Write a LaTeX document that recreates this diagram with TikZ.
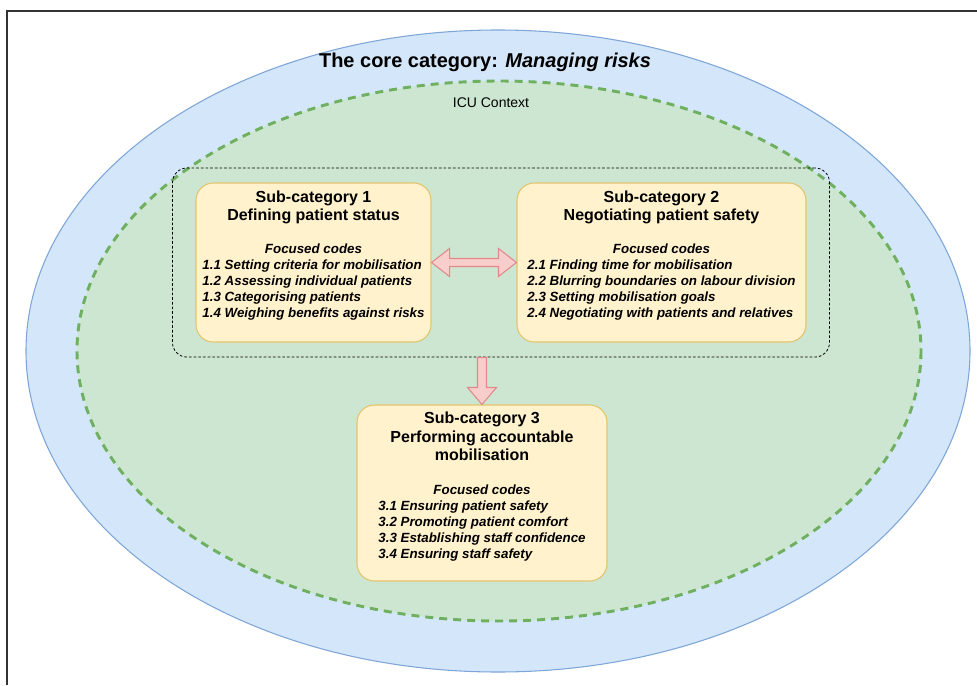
\documentclass[tikz,border=0pt]{standalone}
\usepackage{fontspec}
\setmainfont{Liberation Sans}
\usetikzlibrary{calc, fit}

\definecolor{coreblue}{HTML}{D4E6F9}
\definecolor{coreline}{HTML}{7EA6D8}
\definecolor{icugreen}{HTML}{CDE6D1}
\definecolor{iculine}{HTML}{6FB060}
\definecolor{subfill}{HTML}{FFF2CC}
\definecolor{subline}{HTML}{E3C46E}
\definecolor{arrfill}{HTML}{F8CECC}
\definecolor{arrline}{HTML}{E08A8A}

\newcommand{\subhead}[1]{{\fontsize{12}{12}\selectfont\bfseries\upshape #1}}
\newcommand{\lastcode}{\rule[-12pt]{0pt}{12pt}}

\begin{document}
\begin{tikzpicture}[x=0.75pt, y=-0.75pt,
  subbox/.style={draw=subline, fill=subfill, line width=0.8pt, rounded corners=13pt,
    align=center, inner sep=0pt, font=\fontsize{10}{12}\selectfont\bfseries\itshape},
  blockarrow/.style={draw=arrline, fill=arrfill, line width=0.8pt, line join=miter}]
  \useasboundingbox (0,0) rectangle (977,685);

  % Frame of the figure
  \draw[black!80, line width=1pt] (977,11) -- (7,11) -- (7,685);

  % Draw the core category and the ICU context
  \draw[draw=coreline, fill=coreblue, line width=0.8pt] (498,351) ellipse [x radius=472, y radius=321];
  \draw[draw=iculine, fill=icugreen, line width=2.2pt, dash pattern=on 6pt off 4.5pt]
    (499,351) ellipse [x radius=422, y radius=270];
  \node[font=\fontsize{15}{18}\selectfont\bfseries] (core) at (485,62) {The core category: \textit{Managing risks}};
  \node[font=\fontsize{10.5}{12}\selectfont] (icu) at (491,103) {ICU Context};

  % Sub-categories 1 and 2
  \node[subbox, minimum width=176.25pt, minimum height=119.25pt] (b1) at (313.5,262.5) {%
    \subhead{Sub-category 1}\\[1.5pt]
    \subhead{Defining patient status}\\[13pt]
    Focused codes\\
    \begin{tabular}[t]{@{}l@{}}
      1.1 Setting criteria for mobilisation\\
      1.2 Assessing individual patients\\
      1.3 Categorising patients\\
      1.4 Weighing benefits against risks\lastcode
    \end{tabular}};
  \node[subbox, minimum width=216.75pt, minimum height=119.25pt] (b2) at (661.5,262.5) {%
    \subhead{Sub-category 2}\\[1.5pt]
    \subhead{Negotiating patient safety}\\[13pt]
    Focused codes\\
    \begin{tabular}[t]{@{}l@{}}
      2.1 Finding time for mobilisation\\
      2.2 Blurring boundaries on labour division\\
      2.3 Setting mobilisation goals\\
      2.4 Negotiating with patients and relatives\lastcode
    \end{tabular}};

  % Dotted frame round the first two sub-categories
  \node[draw, rounded corners=11pt, line width=0.6pt, dash pattern=on 2pt off 1.5pt,
    fit=(b1)(b2), inner xsep=17.25pt, inner ysep=10.9pt] (grp) {};

  % Sub-category 3
  \node[subbox, minimum width=187.5pt, minimum height=132pt] (b3) at (482,493) {%
    \subhead{Sub-category 3}\\[2pt]
    \subhead{Performing accountable}\\[2pt]
    \subhead{mobilisation}\\[13pt]
    Focused codes\\
    \begin{tabular}[t]{@{}l@{}}
      3.1 Ensuring patient safety\\
      3.2 Promoting patient comfort\\
      3.3 Establishing staff confidence\\
      3.4 Ensuring staff safety\lastcode
    \end{tabular}};

  % Double arrow between sub-categories 1 and 2
  \draw[blockarrow] (b1.east) -- ++(18,-14) -- ++(0,10) -- ($(b2.west)+(-18,-4)$) -- ++(0,-10)
    -- (b2.west) -- ++(-18,14) -- ++(0,-10) -- ($(b1.east)+(18,4)$) -- ++(0,10) -- cycle;

  % Arrow down to sub-category 3
  \draw[blockarrow] (b3.north) -- ++(-14.5,-17) -- ++(10,0) -- ($(b3.north |- grp.south)+(-4.5,0)$)
    -- ++(9,0) -- ($(b3.north)+(4.5,-17)$) -- ++(10,0) -- cycle;
\end{tikzpicture}
\end{document}
